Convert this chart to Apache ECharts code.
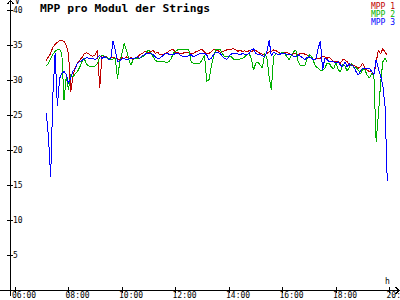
<!DOCTYPE html>
<html><head><meta charset="utf-8">
<script src="https://cdn.jsdelivr.net/npm/echarts@6/dist/echarts.min.js"></script>
<style>html,body{margin:0;padding:0;background:#fff}#c{width:400px;height:300px}
#c svg path{shape-rendering:crispEdges}</style>
</head><body><div id="c"></div>
<script>
// ---- data ----
const startTime = '07:10';      // first sample
const stepMinutes = 5;          // sampling interval of the logger
const seriesNames = ['MPP 1', 'MPP 2', 'MPP 3'];
const hourTicks = [6, 8, 10, 12, 14, 16, 18, 20];
const voltTicks = [5, 10, 15, 20, 25, 30, 35, 40];

const mpp1 = [
32.8,33.3,33.8,34.7,35.1,35.4,35.6,35.7,35.5,34.9,
33.8,28.3,30.5,31.8,32.4,32.8,33.2,33.7,33.9,33.8,
33.5,33.4,33.6,34.3,28.8,33.6,33.3,33.3,33.1,33.1,
33.3,33.1,33.0,32.9,33.2,33.1,33.3,33.1,33.2,32.9,
33.1,33.3,33.6,33.8,34.0,34.1,33.8,34.1,34.2,33.8,
34.0,33.6,33.6,33.7,33.9,34.1,34.3,34.3,34.0,34.0,
33.8,33.8,33.9,34.0,33.9,33.8,33.8,34.0,34.1,34.3,
34.3,34.0,33.8,33.8,34.0,34.3,34.3,34.2,34.0,34.0,
34.2,34.3,34.3,34.4,34.5,34.3,34.1,34.3,34.0,34.2,
34.0,34.2,34.0,34.3,34.2,34.0,33.8,33.7,33.6,33.8,
34.0,34.1,34.3,34.2,34.0,33.8,33.8,34.0,33.9,33.8,
33.6,33.8,33.7,33.6,33.8,33.8,33.7,33.6,33.3,33.1,
32.9,33.1,33.1,33.1,33.4,33.3,33.1,33.3,32.9,32.6,
32.6,32.6,32.4,32.9,32.9,32.6,32.1,32.2,32.1,31.9,
31.7,31.9,32.4,31.6,31.4,31.2,31.2,30.7,32.5,34.3,
33.7,34.5,34.0,33.5
];
const mpp2 = [
32.0,32.4,33.0,33.7,34.1,34.3,34.4,33.8,27.1,30.5,
28.6,30.8,30.4,30.9,31.2,31.8,32.6,33.1,32.3,32.0,
32.0,31.9,32.0,32.4,33.2,33.6,33.4,33.2,33.1,32.9,
33.0,33.1,30.2,32.6,33.8,35.2,34.3,33.0,32.1,32.9,
33.1,33.0,33.1,33.3,33.5,34.0,34.3,33.8,33.3,32.8,
32.6,32.7,32.6,32.6,32.5,32.6,33.0,33.8,34.1,34.3,
34.3,34.4,34.4,34.4,34.3,32.6,32.4,32.4,32.4,32.4,
32.9,33.6,29.8,30.0,31.9,33.3,34.3,34.4,34.4,33.8,
33.3,33.3,33.4,33.3,33.0,32.9,32.9,33.0,33.1,33.3,
33.6,33.8,33.1,31.4,32.4,32.6,32.1,31.7,33.8,33.1,
30.5,28.6,33.3,33.8,33.6,33.8,34.0,33.8,33.3,32.9,
33.6,34.0,34.3,32.6,32.1,32.1,32.1,33.0,33.6,33.4,
32.6,31.9,31.7,31.4,31.4,31.7,32.4,32.4,31.8,31.6,
32.6,31.4,31.2,32.3,32.0,31.3,31.8,32.4,31.7,31.8,
31.4,30.9,31.6,31.4,30.7,30.3,30.9,30.7,21.2,25.0,
29.5,32.6,33.1,32.5
];
const mpp3 = [
25.3,22.0,16.2,28.0,33.8,26.3,30.2,31.0,31.2,30.8,
29.5,30.3,31.3,31.6,32.4,32.6,32.8,33.0,33.2,33.1,
33.0,33.1,32.9,33.2,33.5,33.1,33.3,33.2,32.9,33.1,
35.6,34.2,32.6,32.8,33.0,33.1,32.9,33.0,33.1,33.0,
33.2,33.3,33.1,33.4,33.6,33.8,33.8,33.8,33.6,33.3,
33.1,33.1,33.4,33.7,33.8,33.7,33.6,33.6,33.8,33.8,
33.6,33.4,33.3,33.3,33.5,33.6,33.3,33.5,33.6,33.8,
33.8,33.8,33.6,32.9,33.1,33.6,34.0,33.9,33.8,33.4,
33.1,32.9,33.4,33.7,33.8,33.8,33.7,33.6,33.8,33.7,
33.6,33.8,34.3,34.5,33.8,33.6,33.6,33.5,33.3,34.0,
35.7,33.4,34.0,33.8,33.6,33.7,33.8,33.8,33.6,33.6,
33.6,33.4,33.3,33.6,33.4,33.2,32.9,33.2,33.3,33.1,
32.9,32.9,34.5,35.6,31.5,33.1,32.9,32.6,32.6,32.6,
32.4,32.6,32.1,31.9,32.6,31.9,32.3,32.1,31.9,31.2,
30.7,31.3,31.7,31.7,31.6,31.7,31.2,30.8,32.9,31.6,
30.6,29.3,26.2,15.5
];

// ---- chart ----
const FONT = 'DejaVu Sans Mono';
const colors = ['#c00000', '#00b000', '#0000ff'];
function toHours(s) { const p = s.split(':').map(Number); return p[0] + p[1] / 60; }
const t0 = toHours(startTime);
const times = mpp1.map((_, i) => t0 + i * stepMinutes / 60);
const pairs = arr => arr.map((v, i) => [times[i], v]);

const PX_PER_H = 26.75;
const X_MIN = 6 - 15 / PX_PER_H;
const X_MAX = X_MIN + 399 / PX_PER_H;
const fmtHour = v => String(Math.round(v)).padStart(2, '0') + ':00';
const gridPos = { left: 0, right: 1, top: 10, bottom: 10, outerBoundsMode: 'none', containLabel: false };
const tickStyle = { color: '#000', width: 1 };
const labelStyle = { fontFamily: FONT, fontSize: 8, color: '#000' };

const chart = echarts.init(document.getElementById('c'), null, { renderer: 'svg' });
chart.setOption({
  animation: false,
  backgroundColor: '#fff',
  title: {
    text: 'MPP pro Modul der Strings', left: 40, top: 3, padding: 0,
    textStyle: { fontFamily: FONT, fontWeight: 'bold', fontSize: 11.3, color: '#000' }
  },
  legend: {
    orient: 'vertical', right: 5, top: 2, padding: 0, itemGap: 0,
    itemWidth: 0, itemHeight: 7.7, icon: 'none', selectedMode: false,
    textStyle: { fontFamily: FONT, fontSize: 8, lineHeight: 7.7, padding: 0 },
    data: seriesNames.map((n, i) => ({ name: n, textStyle: { color: colors[i] } }))
  },
  grid: [Object.assign({}, gridPos), Object.assign({}, gridPos)],
  xAxis: [{
    type: 'value', gridIndex: 0, min: X_MIN, max: X_MAX,
    axisLine: { show: true, lineStyle: { color: '#000', width: 1 } },
    axisTick: { show: true, length: 3, customValues: hourTicks, lineStyle: tickStyle },
    axisLabel: Object.assign({ show: true, margin: 1, align: 'left',
      customValues: hourTicks.map(h => h - 3 / PX_PER_H), formatter: fmtHour }, labelStyle),
    splitLine: { show: false }
  }, {
    type: 'value', gridIndex: 1, min: X_MIN, max: X_MAX,
    axisLine: { show: false },
    axisTick: { show: true, inside: true, length: 3, customValues: hourTicks, lineStyle: tickStyle },
    axisLabel: { show: false }, splitLine: { show: false }
  }],
  yAxis: [{
    type: 'value', gridIndex: 0, min: 0, max: 40, offset: -10,
    axisLine: { show: false },
    axisTick: { show: true, inside: true, length: 3, customValues: voltTicks, lineStyle: tickStyle },
    axisLabel: Object.assign({ show: true, inside: true, margin: 3, customValues: voltTicks }, labelStyle),
    splitLine: { show: false }
  }, {
    type: 'value', gridIndex: 1, min: 0, max: 40, offset: -10,
    axisLine: { show: false },
    axisTick: { show: true, length: 3, customValues: voltTicks, lineStyle: tickStyle },
    axisLabel: { show: false }, splitLine: { show: false }
  }],
  graphic: [
    { type: 'polyline', silent: true, shape: { points: [[10.5, 296], [10.5, 0.5]] }, style: { stroke: '#000', lineWidth: 1, fill: null } },
    { type: 'polyline', silent: true, shape: { points: [[7.5, 4], [10.5, 0.5], [13.5, 4]] }, style: { stroke: '#000', lineWidth: 1, fill: null } },
    { type: 'polyline', silent: true, shape: { points: [[395.5, 287], [399, 290.5], [395.5, 294]] }, style: { stroke: '#000', lineWidth: 1, fill: null } },
    { type: 'text', silent: true, left: 15, top: -3, style: { text: 'V', font: '8px "DejaVu Sans Mono"', fill: '#000' } },
    { type: 'text', silent: true, left: 385, top: 277, style: { text: 'h', font: '8px "DejaVu Sans Mono"', fill: '#000' } }
  ],
  series: [mpp1, mpp2, mpp3].map((arr, i) => ({
    name: seriesNames[i], type: 'line', xAxisIndex: 0, yAxisIndex: 0,
    data: pairs(arr), showSymbol: false, symbol: 'none',
    lineStyle: { color: colors[i], width: 1 }, itemStyle: { color: colors[i] },
    emphasis: { disabled: true }
  }))
});
</script></body></html>
